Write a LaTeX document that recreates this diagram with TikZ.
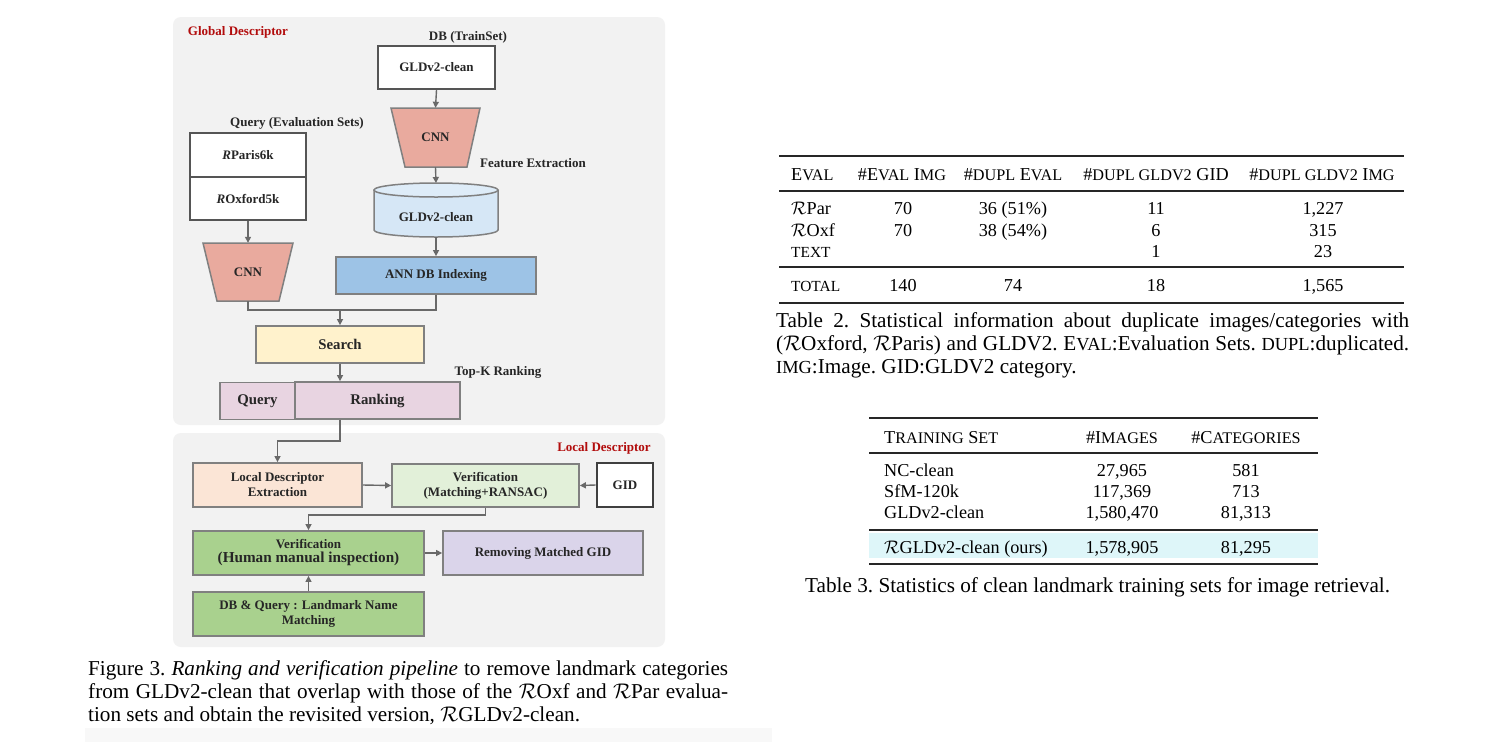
\documentclass[tikz,border=0pt]{standalone}
\usepackage{fix-cm}
\usepackage{fontspec}
\setmainfont{Liberation Serif}
\usetikzlibrary{arrows.meta}
\definecolor{panel}{RGB}{242,242,242}
\definecolor{boxgray}{RGB}{128,128,128}
\definecolor{darkbox}{RGB}{85,85,85}
\definecolor{linegray}{RGB}{105,105,105}
\definecolor{redtxt}{RGB}{178,12,12}
\definecolor{cnnfill}{RGB}{233,170,158}
\definecolor{cylfill}{RGB}{214,231,246}
\definecolor{annfill}{RGB}{157,195,230}
\definecolor{searchfill}{RGB}{255,242,204}
\definecolor{rankfill}{RGB}{232,212,225}
\definecolor{ldfill}{RGB}{251,229,214}
\definecolor{v1fill}{RGB}{226,240,217}
\definecolor{v2fill}{RGB}{169,209,142}
\definecolor{remfill}{RGB}{218,212,234}
\definecolor{hlfill}{RGB}{222,246,249}
\definecolor{bandfill}{RGB}{248,248,248}
\newcommand\dfont{\fontsize{13}{15}\selectfont\bfseries}
\newcommand\bigdfont{\fontsize{14.8}{17}\selectfont\bfseries}
\newcommand\tfont{\fontsize{18.2}{22}\selectfont}
\newcommand\cfont{\fontsize{21.2}{23}\selectfont\frenchspacing}
\newcommand\fsc[1]{{\fontsize{16.2}{16.2}\selectfont #1}}
\newcommand\fscb[1]{{\fontsize{15.4}{15.4}\selectfont #1}}
\newcommand\fscc[1]{{\fontsize{18.4}{18.4}\selectfont #1}}
\begin{document}
\begin{tikzpicture}[x=1pt,y=-1pt,
  box/.style={draw=boxgray, line width=1.8pt, font=\dfont, align=center, inner sep=0pt, text=black!85},
  bigbox/.style={box, font=\bigdfont},
  darkboxst/.style={box, draw=darkbox, line width=2.2pt, fill=white},
  txt/.style={font=\dfont, align=center, inner sep=0pt, text=black!85},
  redlbl/.style={font=\dfont, text=redtxt, inner sep=0pt},
  conn/.style={draw=linegray, line width=1.4pt},
  arr/.style={conn, -{Triangle[length=6pt,width=6pt]}},
  cell/.style={font=\tfont, inner sep=0pt, anchor=base},
  cellw/.style={cell, anchor=base west},
  capw/.style={font=\cfont, inner sep=0pt, anchor=base west},
  rule/.style={line width=1.3pt, draw=black!85},
  thickrule/.style={line width=2.2pt, draw=black!85}]
\useasboundingbox (0,0) rectangle (1490,742);
\fill[white] (0,0) rectangle (1490,742);
\fill[bandfill] (85,728) rectangle (772,742);

% panels
\fill[panel, rounded corners=8] (173,17) rectangle (665,425);
\fill[panel, rounded corners=8] (173,433) rectangle (665,647);

% global descriptor part
\node[redlbl] (gd) at (238,32) {Global Descriptor};
\node[txt] (dbl) at (468,37) {DB (TrainSet)};
\node[darkboxst, minimum width=117, minimum height=43] (db) at (436.5,67.5) {GLDv2-clean};

\filldraw[fill=cnnfill, draw=boxgray, line width=1.5pt] (391,108) -- (480,108) -- (467,167) -- (405,167) -- cycle;
\node[txt, minimum width=62, minimum height=59] (cnn1) at (435.5,137.5) {CNN};
\node[txt] (fe) at (533,163) {Feature Extraction};

% cylinder
\fill[cylfill] (374,190) -- (374,230) arc[start angle=180,end angle=360,x radius=62pt,y radius=7pt] -- (498,190) -- cycle;
\draw[boxgray, line width=1.5pt] (374,190) -- (374,230) arc[start angle=180,end angle=360,x radius=62pt,y radius=7pt] -- (498,190);
\filldraw[fill=cylfill!80!white, draw=boxgray, line width=1.5pt] (436,190) ellipse[x radius=62pt, y radius=7pt];
\coordinate (cyltop) at (436,183);
\node[txt, minimum width=124, minimum height=40] (cyl) at (436,217) {GLDv2-clean};

\node[box, fill=annfill, minimum width=200, minimum height=37] (ann) at (436,275.5) {ANN DB Indexing};

\node[txt] (ql) at (297,123) {Query (Evaluation Sets)};
\node[darkboxst, minimum width=116, minimum height=44] (paris) at (248,155) {\textit{R}Paris6k};
\node[darkboxst, minimum width=116, minimum height=43] (oxford) at (248,198.5) {\textit{R}Oxford5k};

\filldraw[fill=cnnfill, draw=boxgray, line width=1.5pt] (203,243) -- (293,243) -- (279,301) -- (217,301) -- cycle;
\node[txt, minimum width=62, minimum height=58] (cnn2) at (248,272) {CNN};

\node[bigbox, fill=searchfill, minimum width=168, minimum height=37] (search) at (340,344.5) {Search};
\node[txt] (topk) at (498,372) {Top-K Ranking};
\node[bigbox, fill=rankfill, minimum width=75, minimum height=37] (query) at (257.5,401) {Query};
\node[bigbox, fill=rankfill, minimum width=165, minimum height=37] (rank) at (377.5,400.5) {Ranking};

% local descriptor part
\node[redlbl] (ldl) at (604,448) {Local Descriptor};
\node[box, fill=ldfill, minimum width=169, minimum height=44] (ldext) at (277.5,485) {Local Descriptor\\Extraction};
\node[box, fill=v1fill, minimum width=187, minimum height=43] (verif1) at (485.5,485.5) {Verification\\(Matching+RANSAC)};
\node[darkboxst, draw=black!75, line width=2.6pt, minimum width=56, minimum height=44] (gid) at (625,485) {GID};
\node[box, fill=v2fill, minimum width=231, minimum height=44] (human) at (308.5,553) {Verification\\[-1pt]{\fontsize{15.2}{17}\selectfont (Human manual inspection)}};
\node[box, fill=remfill, minimum width=200, minimum height=44] (remove) at (543,553) {Removing Matched GID};
\node[box, fill=v2fill, minimum width=231, minimum height=44] (dbq) at (308.5,614) {DB \& Query : Landmark Name\\Matching};

% connectors
\draw[arr] (db.south) -- (cnn1.north);
\draw[arr] (cnn1.south) -- (cyltop);
\draw[arr] (cyl.south) -- (ann.north);
\draw[arr] (oxford.south) -- (cnn2.north);
\coordinate (m1) at (340,310);
\draw[conn] (cnn2.south) |- (ann.south |- m1) -- (ann.south);
\draw[arr] (m1) -- (search.north);
\draw[arr] (search.south) -- (search.south |- rank.north);
\draw[arr] (search.south |- rank.south) -- ++(0,21) -| (ldext.north);
\draw[arr] (ldext.east) -- (verif1.west);
\draw[arr] (gid.west) -- (verif1.east);
\draw[arr] (verif1.south) -- ++(0,7) -| (human.north);
\draw[arr] (human.east) -- (remove.west);
\draw[arr] (dbq.north) -- (human.south);

% figure caption
\node[capw] (cap1) at (88,675) {\makebox[640pt][s]{Figure 3. \textit{Ranking and verification pipeline} to remove landmark categories}};
\node[capw] (cap2) at (88,698) {\makebox[640pt][s]{from GLDv2-clean that overlap with those of the $\mathcal{R}$Oxf and $\mathcal{R}$Par evalua-}};
\node[capw] (cap3) at (88,721) {tion sets and obtain the revisited version, $\mathcal{R}$GLDv2-clean.};

% Table 2
\draw[thickrule] (779,156) -- (1404,156);
\draw[rule] (779,191) -- (1404,191);
\draw[rule] (779,267) -- (1404,267);
\draw[thickrule] (779,303) -- (1404,303);
\node[cellw] (h1) at (791,180) {E\fsc{VAL}};
\node[cell] (h2) at (902,180) {\#E\fsc{VAL} I\fsc{MG}};
\node[cell] (h3) at (1013,180) {\#\fsc{DUPL} E\fsc{VAL}};
\node[cell] (h4) at (1156,180) {\#\fsc{DUPL GLDV2} GID};
\node[cell] (h5) at (1322,180) {\#\fsc{DUPL GLDV2} I\fsc{MG}};
\node[cellw] (a1) at (791,214) {$\mathcal{R}$Par};
\node[cell] (a2) at (903,214) {70};
\node[cell] (a3) at (1013,214) {36 (51\%)};
\node[cell] (a4) at (1156,214) {11};
\node[cell] (a5) at (1323,214) {1,227};
\node[cellw] (b1) at (791,236) {$\mathcal{R}$Oxf};
\node[cell] (b2) at (903,236) {70};
\node[cell] (b3) at (1013,236) {38 (54\%)};
\node[cell] (b4) at (1156,236) {6};
\node[cell] (b5) at (1323,236) {315};
\node[cellw] (c1) at (791,257) {\fscb{TEXT}};
\node[cell] (c4) at (1156,257) {1};
\node[cell] (c5) at (1323,257) {23};
\node[cellw] (d1) at (791,291) {\fscb{TOTAL}};
\node[cell] (d2) at (903,291) {140};
\node[cell] (d3) at (1013,291) {74};
\node[cell] (d4) at (1156,291) {18};
\node[cell] (d5) at (1323,291) {1,565};
\node[capw] (t2c1) at (776,327) {\makebox[633pt][s]{Table 2. Statistical information about duplicate images/categories with}};
\node[capw] (t2c2) at (776,350) {\makebox[633pt][s]{($\mathcal{R}$Oxford, $\mathcal{R}$Paris) and GLDV2. E\fscc{VAL}:Evaluation Sets. \fscc{DUPL}:duplicated.}};
\node[capw] (t2c3) at (776,373) {\fscc{IMG}:Image. GID:GLDV2 category.};

% Table 3
\fill[hlfill] (869,533) rectangle (1318,558);
\draw[thickrule] (869,418) -- (1318,418);
\draw[rule] (869,453) -- (1318,453);
\draw[rule] (869,530) -- (1318,530);
\draw[thickrule] (869,564) -- (1318,564);
\node[cellw] (g1) at (884,443) {T\fsc{RAINING} S\fsc{ET}};
\node[cell] (g2) at (1122,443) {\#I\fsc{MAGES}};
\node[cell] (g3) at (1246,443) {\#C\fsc{ATEGORIES}};
\node[cellw] (e1) at (884,476) {NC-clean};
\node[cell] (e2) at (1122,476) {27,965};
\node[cell] (e3) at (1246,476) {581};
\node[cellw] (f1) at (884,497) {SfM-120k};
\node[cell] (f2) at (1122,497) {117,369};
\node[cell] (f3) at (1246,497) {713};
\node[cellw] (k1) at (884,518) {GLDv2-clean};
\node[cell] (k2) at (1122,518) {1,580,470};
\node[cell] (k3) at (1246,518) {81,313};
\node[cellw] (l1) at (884,553) {$\mathcal{R}$GLDv2-clean (ours)};
\node[cell] (l2) at (1122,553) {1,578,905};
\node[cell] (l3) at (1246,553) {81,295};
\node[capw] (t3c) at (805,592) {Table 3. Statistics of clean landmark training sets for image retrieval.};
\end{tikzpicture}
\end{document}
